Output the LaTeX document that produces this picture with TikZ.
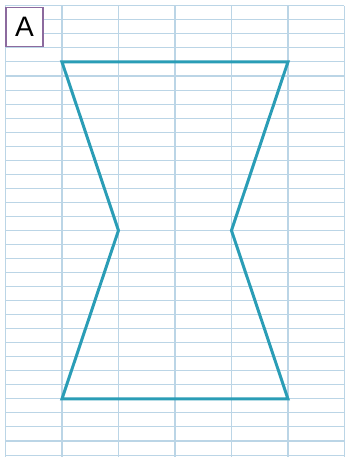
\documentclass[tikz,border=0pt]{standalone}
\usepackage{fontspec}
\setsansfont{Liberation Sans}
\usepackage{xcolor}
\definecolor{gridblue}{HTML}{BBD5E6}
\definecolor{shapeteal}{HTML}{2A9DB6}
\definecolor{tagpurple}{HTML}{8C6A9E}

\begin{document}
\begin{tikzpicture}[x=1.13cm,y=-0.2808cm,
    gridline/.style={gridblue,line width=0.6pt},
    outline/.style={shapeteal,line width=1.7pt,line join=miter},
    tagbox/.style={draw=tagpurple,line width=0.7pt,fill=white,inner sep=0pt,
      minimum width=0.74cm,minimum height=0.78cm,font=\sffamily\fontsize{16}{16}\selectfont}]
  \useasboundingbox (-0.097,-0.413) rectangle (6.115,32.14);
  \foreach \j in {0,...,32} \draw[gridline] (0,\j)--(6,\j);
  \foreach \i in {0,...,6} \draw[gridline,line width=0.8pt] (\i,0)--(\i,32.14);
  \coordinate (TL) at (1,4);
  \coordinate (TR) at (5,4);
  \coordinate (MR) at (4,16);
  \coordinate (BR) at (5,28);
  \coordinate (BL) at (1,28);
  \coordinate (ML) at (2,16);
  \draw[outline] (TL)--(TR)--(MR)--(BR)--(BL)--(ML)--cycle;
  \node[tagbox,anchor=north west] (tag) at (0,0.08) {A};
\end{tikzpicture}
\end{document}
